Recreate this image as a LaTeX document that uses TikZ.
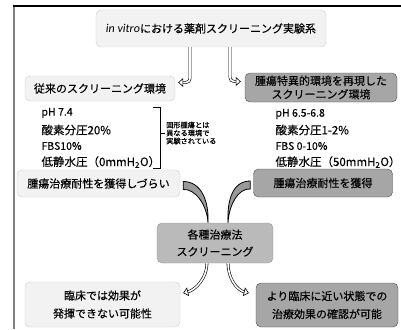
\documentclass[tikz,border=0pt]{standalone}
\usepackage{fontspec}
\setmainfont{Noto Sans CJK JP}[FakeBold=0.2]
\newfontfamily\latfont{Carlito}
\usetikzlibrary{arrows.meta,calc,positioning}

\begin{document}
\begin{tikzpicture}
  [x=1pt,y=-1pt,
   boxN/.style={rounded corners=5pt, align=center, inner sep=0pt,
                font=\fontsize{11}{13.5}\selectfont},
   lgtN/.style={boxN,draw=black!20,fill=black!5},
   drkN/.style={boxN,draw=black!70,fill=black!35},
   midN/.style={boxN,draw=black!40,fill=black!27},
   smlT/.style={anchor=west,font=\fontsize{10.5}{12}\selectfont},
   bigT/.style={anchor=west,font=\fontsize{11.5}{14}\selectfont},
   dblArr/.style={double,double distance=1.6pt,line width=.6pt,
                  -{Triangle[open,length=5pt,width=9pt]}},
   wedgeN/.style={fill=black!40,draw=black,line width=.8pt},
  ]
  \useasboundingbox (0,0) rectangle (401,329);

  % frame
  \draw[black!50,line width=2pt] (13.5,6) -- (13.5,329);
  \draw[line width=1.2pt] (13,6) -- (401,6);

  % top
  \node[lgtN,minimum width=230pt,minimum height=37pt] (sys) at (211,28.5)
    {{\latfont\itshape\fontsize{12}{14}\selectfont in vitro}における薬剤スクリーニング実験系};
  \node[lgtN,minimum width=150pt,minimum height=25pt] (conv) at (100,88.5)
    {従来のスクリーニング環境};
  \node[drkN,minimum width=152pt,minimum height=29pt] (tenv) at (321,87.5)
    {腫瘍特異的環境を再現した\\スクリーニング環境};

  \draw[dblArr,rounded corners=4pt] ([xshift=-21pt]sys.south) |- ([xshift=3pt,yshift=6pt]conv.east);
  \draw[dblArr,rounded corners=4pt] ([xshift=19pt]sys.south) |- ([xshift=-4pt,yshift=6pt]tenv.west);

  % conditions
  \node[smlT] (lph) at (38,113) {pH 7.4};
  \node[bigT] (lox) at (38,130) {酸素分圧20\%};
  \node[smlT] (lfbs) at (38,146) {FBS10\%};
  \node[bigT] (lpr) at (38,162) {低静水圧（0mmH\textsubscript{2}O）};

  \node[smlT] (rph) at (272,114) {pH 6.5-6.8};
  \node[bigT] (rox) at (272,130) {酸素分圧1-2\%};
  \node[smlT] (rfbs) at (272,146) {FBS 0-10\%};
  \node[bigT] (rpr) at (272,162) {低静水圧（50mmH\textsubscript{2}O）};

  \node[anchor=west,align=left,inner sep=1pt,font=\fontsize{7.2}{8}\selectfont] (note) at (165,133)
    {固形腫瘍とは\\異なる環境で\\実験されている};
  \draw[thin] (153,107) -- (160,107) -- (160,168) -- (153,168);
  \draw[thin] (160,133) -- (note.west);

  % middle
  \node[lgtN,minimum width=163pt,minimum height=27pt] (lres) at (98.5,183.5)
    {腫瘍治療耐性を獲得しづらい};
  \node[drkN,minimum width=139pt,minimum height=28pt] (rres) at (323,183)
    {腫瘍治療耐性を獲得};
  \node[midN,minimum width=116pt,minimum height=40pt,font=\fontsize{11}{17}\selectfont] (cent) at (215,243)
    {各種治療法\\スクリーニング};

  \filldraw[wedgeN] ([xshift=3pt,yshift=2pt]lres.east) .. controls +(18,0) and +(1,-22) .. ([xshift=-7pt]cent.north)
    .. controls +(-1,-18) and +(12,-1) .. ([xshift=3pt,yshift=-6pt]lres.east) -- cycle;
  \filldraw[wedgeN] ([xshift=-3pt,yshift=2pt]rres.west) .. controls +(-18,0) and +(-1,-22) .. ([xshift=13pt]cent.north)
    .. controls +(1,-18) and +(-12,-1) .. ([xshift=-3pt,yshift=-6pt]rres.west) -- cycle;

  % bottom
  \node[lgtN,minimum width=155pt,minimum height=45pt,font=\fontsize{11}{18}\selectfont] (bad) at (102.5,304.5)
    {臨床では効果が\\発揮できない可能性};
  \node[drkN,minimum width=142pt,minimum height=44pt,font=\fontsize{11}{18}\selectfont] (good) at (327,305)
    {より臨床に近い状態での\\治療効果の確認が可能};

  \draw[dblArr] ([xshift=-8pt]cent.south) .. controls +(0,15) and +(12,-3) .. ([xshift=3pt,yshift=11.5pt]bad.east);
  \draw[dblArr] ([xshift=13pt]cent.south) .. controls +(0,15) and +(-12,-3) .. ([xshift=-7pt,yshift=12pt]good.west);
\end{tikzpicture}
\end{document}
